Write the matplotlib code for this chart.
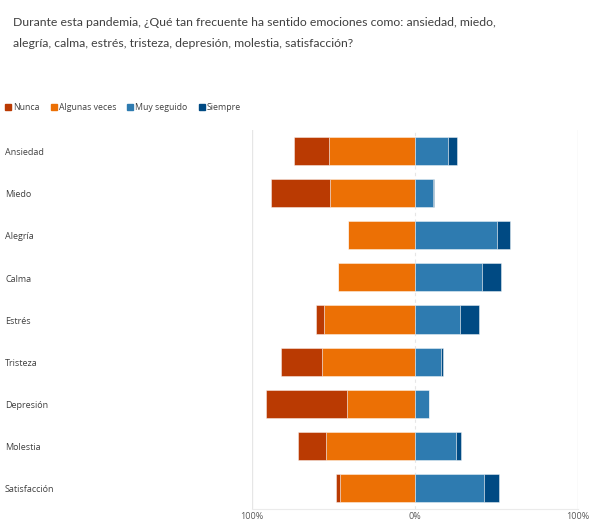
import matplotlib.pyplot as plt
import matplotlib.transforms as mtransforms
from matplotlib.patches import Rectangle

# datos (% de respuestas)
categorias = ['Ansiedad', 'Miedo', 'Alegría', 'Calma', 'Estrés', 'Tristeza',
              'Depresión', 'Molestia', 'Satisfacción']
nunca = [21.5, 36.0, 0.0, 0.0, 4.5, 24.9, 49.7, 17.2, 2.7]
algunas_veces = [52.8, 52.1, 41.3, 47.0, 56.1, 57.3, 41.5, 54.4, 46.0]
muy_seguido = [20.0, 10.8, 50.3, 40.9, 27.8, 15.7, 8.6, 25.2, 42.1]
siempre = [5.8, 1.0, 8.2, 12.1, 11.5, 1.6, 0.0, 3.1, 9.2]

series = ['Nunca', 'Algunas veces', 'Muy seguido', 'Siempre']
colores = ['#BA3A02', '#EC7005', '#2E7BB0', '#004A83']
texto = '#404040'

plt.rcParams['font.family'] = ['Open Sans', 'DejaVu Sans']

fig = plt.figure(figsize=(6, 5.21), dpi=100)
ax = fig.add_axes([252 / 600, 1 - 509 / 521, 326 / 600, 379 / 521])

y = list(range(len(categorias)))
alto = 0.67
borde = dict(edgecolor=(1, 1, 1, 0.5), linewidth=0.6)

izq_alg = [-a for a in algunas_veces]
izq_nun = [-(a + n) for a, n in zip(algunas_veces, nunca)]
ax.barh(y, algunas_veces, left=izq_alg, height=alto, color=colores[1], **borde)
ax.barh(y, nunca, left=izq_nun, height=alto, color=colores[0], **borde)
ax.barh(y, muy_seguido, left=0, height=alto, color=colores[2], **borde)
ax.barh(y, siempre, left=muy_seguido, height=alto, color=colores[3], **borde)

ax.set_xlim(-100, 100)
ax.set_ylim(len(categorias) - 0.5, -0.5)

# lineas de referencia
ax.axvline(-100, color='#E6E6E6', lw=1, zorder=0)
ax.axvline(100, color='#E6E6E6', lw=1, zorder=0)
ax.axvline(0, color='#E6E6E6', lw=0.8, ls=(0, (3, 3)), zorder=0)

for s in ['top', 'right', 'left']:
    ax.spines[s].set_visible(False)
ax.spines['bottom'].set_color('#EBEBEB')
ax.spines['bottom'].set_linewidth(0.8)

ax.set_xticks([-100, 0, 100])
ax.set_xticklabels(['100%', '0%', '100%'])
ax.tick_params(axis='x', length=0, pad=2, labelsize=6.5, labelcolor='#595959')
ax.set_yticks([])

# etiquetas de categorias alineadas a la izquierda
trans = mtransforms.blended_transform_factory(fig.transFigure, ax.transData)
for i, c in enumerate(categorias):
    ax.text(5 / 600, i + 0.04, c, transform=trans, ha='left', va='center',
            fontsize=6.5, color=texto)

# titulo
fig.text(13 / 600, 1 - 33 / 521,
         'Durante esta pandemia, ¿Qué tan frecuente ha sentido emociones como: ansiedad, miedo,\n'
         'alegría, calma, estrés, tristeza, depresión, molestia, satisfacción?',
         ha='left', va='center', fontsize=8.8, color=texto, linespacing=2.05,
         family=['Lato', 'DejaVu Sans'])

# leyenda
pos_x = [5, 51, 127, 199]
for px, nombre, col in zip(pos_x, series, colores):
    fig.patches.append(Rectangle((px / 600, 1 - 110 / 521), 6 / 600, 6 / 521,
                                 transform=fig.transFigure, color=col))
    fig.text((px + 8) / 600, 1 - 107 / 521, nombre, ha='left', va='center',
             fontsize=6.3, color=texto)

fig.savefig('out.png', dpi=100)
